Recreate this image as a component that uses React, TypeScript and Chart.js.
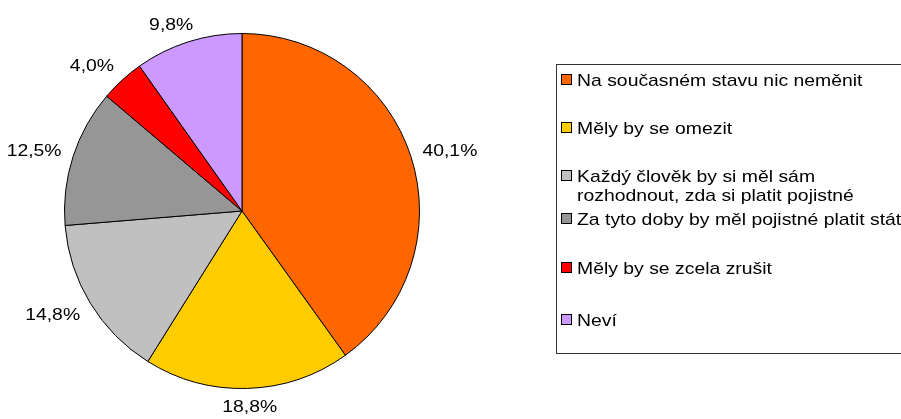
import React, { useEffect, useRef } from "react";
import { Chart, registerables } from "chart.js";

Chart.register(...registerables);

const categories = [
  "Na současném stavu nic neměnit",
  "Měly by se omezit",
  "Každý člověk by si měl sám rozhodnout, zda si platit pojistné",
  "Za tyto doby by měl pojistné platit stát",
  "Měly by se zcela zrušit",
  "Neví",
];
const legendLines = [
  ["Na současném stavu nic neměnit"],
  ["Měly by se omezit"],
  ["Každý člověk by si měl sám", "rozhodnout, zda si platit pojistné"],
  ["Za tyto doby by měl pojistné platit stát"],
  ["Měly by se zcela zrušit"],
  ["Neví"],
];
const values = [40.1, 18.8, 14.8, 12.5, 4.0, 9.8];
const valueLabels = ["40,1%", "18,8%", "14,8%", "12,5%", "4,0%", "9,8%"];
const colors = ["#FF6600", "#FFCC00", "#C0C0C0", "#969696", "#FF0000", "#CC99FF"];

const FONT = "17px 'Liberation Sans', Arial, sans-serif";
const SX = 1.14;

function drawStretched(ctx: CanvasRenderingContext2D, text: string, x: number, baseline: number) {
  ctx.save();
  ctx.translate(x, baseline);
  ctx.scale(SX, 1);
  ctx.fillText(text, 0, 0);
  ctx.restore();
}

const clamp = (v: number) => Math.max(-1, Math.min(1, v));

const labelPlugin = {
  id: "outsideLabels",
  afterDatasetsDraw(chart: any) {
    const ctx: CanvasRenderingContext2D = chart.ctx;
    const meta = chart.getDatasetMeta(0);
    ctx.save();
    ctx.font = FONT;
    ctx.fillStyle = "#000";
    ctx.textAlign = "left";
    ctx.textBaseline = "alphabetic";
    meta.data.forEach((arc: any, i: number) => {
      const p = arc.getProps(["x", "y", "startAngle", "endAngle", "outerRadius"], true);
      const mid = (p.startAngle + p.endAngle) / 2;
      const ux = Math.cos(mid);
      const uy = Math.sin(mid);
      const R = p.outerRadius + 12;
      const px = p.x + R * ux;
      const py = p.y + R * uy;
      const text = valueLabels[i];
      const w = ctx.measureText(text).width * SX;
      const hw = w / 2;
      const hh = 6;
      const cx = px + clamp(2 * ux) * hw;
      const cy = py + clamp(1.5 * uy) * hh;
      drawStretched(ctx, text, cx - hw, cy + 6);
    });
    ctx.restore();
  },
};

const legendPlugin = {
  id: "boxLegend",
  afterDraw(chart: any) {
    const ctx: CanvasRenderingContext2D = chart.ctx;
    const baselines = [[86], [134], [182, 201], [225], [274], [326]];
    ctx.save();
    ctx.strokeStyle = "#333";
    ctx.lineWidth = 1;
    ctx.strokeRect(556.5, 64.5, 420, 289);
    ctx.font = FONT;
    ctx.fillStyle = "#000";
    ctx.textBaseline = "alphabetic";
    legendLines.forEach((lines, i) => {
      const b = baselines[i];
      const markTop = b[0] - 12;
      ctx.fillStyle = colors[i];
      ctx.fillRect(561.5, markTop + 0.5, 10, 10);
      ctx.strokeStyle = "#000";
      ctx.strokeRect(561.5, markTop + 0.5, 10, 10);
      ctx.fillStyle = "#000";
      lines.forEach((ln, j) => drawStretched(ctx, ln, 577, b[j]));
    });
    ctx.restore();
  },
};

export default function App() {
  const ref = useRef<HTMLCanvasElement>(null);
  useEffect(() => {
    const chart = new Chart(ref.current as HTMLCanvasElement, {
      type: "pie",
      data: {
        labels: categories,
        datasets: [
          {
            data: values,
            backgroundColor: colors,
            borderColor: "#000",
            borderWidth: 1,
          },
        ],
      },
      options: {
        responsive: false,
        devicePixelRatio: 1,
        animation: false,
        layout: { padding: { left: 64, top: 33, right: 481, bottom: 30 } },
        plugins: {
          legend: { display: false },
          tooltip: { enabled: false },
        },
      },
      plugins: [labelPlugin, legendPlugin],
    } as any);
    return () => chart.destroy();
  }, []);
  return (
    <div style={{ position: "absolute", left: 0, top: 0, width: 901, height: 419, background: "#fff" }}>
      <canvas ref={ref} width={901} height={419} style={{ display: "block" }} />
    </div>
  );
}
